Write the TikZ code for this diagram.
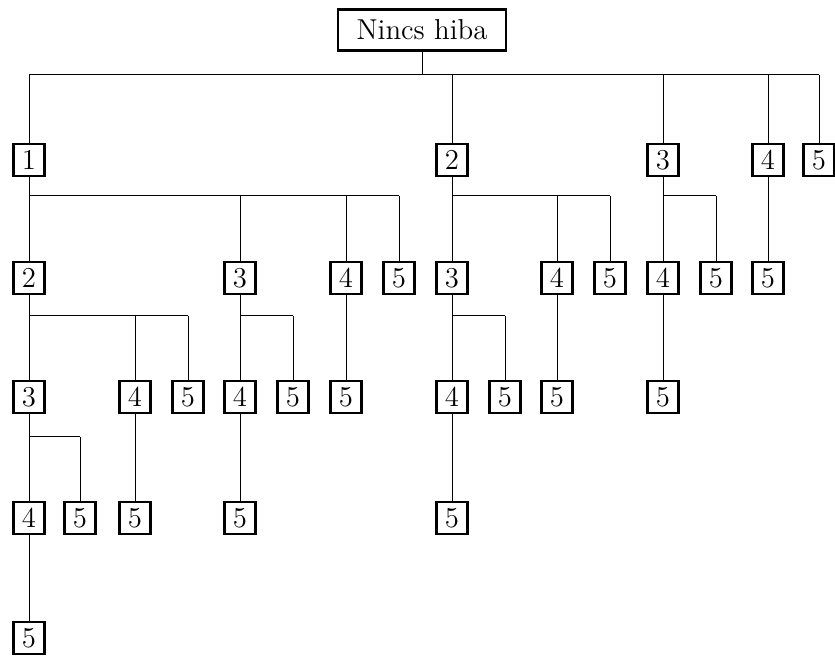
\documentclass[tikz,border=0pt]{standalone}
\begin{document}
\begin{tikzpicture}[x=0.5pt,y=-0.5pt,
  box/.style={draw,line width=1.4pt,inner sep=0pt,minimum width=15.5pt,minimum height=16pt,
    font=\fontsize{14.4}{17}\selectfont},
  rootbox/.style={box,minimum width=84pt,minimum height=20.5pt},
  conn/.style={draw,line width=0.5pt}]
\useasboundingbox (0,0) rectangle (835,657);
% tree levels
\node[rootbox] (a) at (422,30) {Nincs hiba};
\foreach \n/\x in {1/29,2/452,3/663,4/768,5/819}
  \node[box] (a\n) at (\x,160) {\n};
\foreach \n/\x/\t in {12/29/2,13/240/3,14/346/4,15/399/5,23/452/3,24/557/4,25/610/5,34/663/4,35/716/5,45/768/5}
  \node[box] (a\n) at (\x,278) {\t};
\foreach \n/\x/\t in {123/29/3,124/135/4,125/188/5,134/240/4,135/293/5,145/346/5,234/452/4,235/505/5,245/557/5,345/663/5}
  \node[box] (a\n) at (\x,397) {\t};
\foreach \n/\x/\t in {1234/29/4,1235/80/5,1245/135/5,1345/240/5,2345/452/5}
  \node[box] (a\n) at (\x,518) {\t};
\node[box] (a12345) at (29,638) {5};
% bar heights
\coordinate (b0) at (0,75);
\coordinate (b1) at (0,196);
\coordinate (b2) at (0,316);
\coordinate (b3) at (0,437);
% branching: stem, horizontal bar, drops to every child
\foreach \p/\b/\first/\last/\kids in {
    /b0/1/5/{1,2,3,4,5},
    1/b1/12/15/{12,13,14,15},
    2/b1/23/25/{23,24,25},
    3/b1/34/35/{34,35},
    12/b2/123/125/{123,124,125},
    13/b2/134/135/{134,135},
    23/b2/234/235/{234,235},
    123/b3/1234/1235/{1234,1235}}{
  \draw[conn] (a\p) -- (a\p |- \b);
  \draw[conn] (a\first |- \b) -- (a\last |- \b);
  \foreach \c in \kids
    \draw[conn] (a\c |- \b) -- (a\c);
}
% single-child connectors
\draw[conn] (a4) -- (a45);
\draw[conn] (a14) -- (a145);
\draw[conn] (a24) -- (a245);
\draw[conn] (a34) -- (a345);
\draw[conn] (a124) -- (a1245);
\draw[conn] (a134) -- (a1345);
\draw[conn] (a234) -- (a2345);
\draw[conn] (a1234) -- (a12345);
\end{tikzpicture}
\end{document}
